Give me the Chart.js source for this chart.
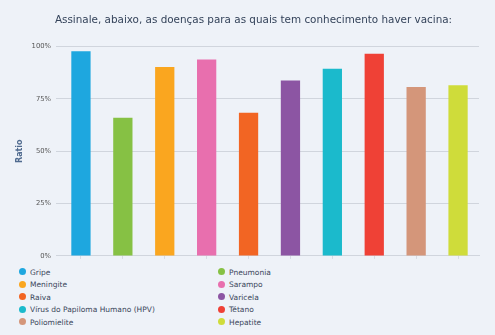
<!DOCTYPE html>
<html lang="pt">
<head>
  <meta charset="UTF-8">
  <title>Vacinas conhecidas</title>
  <style>
    html, body { margin: 0; padding: 0; background: #eef2f8; }
    body { width: 495px; height: 335px; overflow: hidden; font-family: "DejaVu Sans", sans-serif; }
    #wrap { position: relative; width: 495px; height: 265px; }
    #legend { display: grid; grid-template-columns: 199px 200px; padding-left: 19px; margin-top: 1.5px; }
    #legend div { height: 12.6px; line-height: 12.6px; font-size: 7.5px; color: #3a465a; white-space: nowrap; }
    #legend span { display: inline-block; width: 7px; height: 7px; border-radius: 50%; margin-right: 4px; vertical-align: -0.5px; }
  </style>
</head>
<body>
  <div id="wrap"><canvas id="chartCanvas"></canvas></div>
  <div id="legend"></div>

  <script src="https://cdn.jsdelivr.net/npm/chart.js"></script>
  <script>
    // dados
    const titulo = 'Assinale, abaixo, as doenças para as quais tem conhecimento haver vacina:';
    const doencas = ['Gripe', 'Pneumonia', 'Meningite', 'Sarampo', 'Raiva', 'Varicela',
      'Vírus do Papiloma Humano (HPV)', 'Tétano', 'Poliomielite', 'Hepatite'];
    const ratio = [97.7, 66.0, 90.2, 93.8, 68.4, 83.7, 89.4, 96.5, 80.7, 81.5];
    const cores = ['#1ea7df', '#86c144', '#faa61f', '#e86fae', '#f26523', '#8c55a3',
      '#1bbacc', '#ef4136', '#d4967a', '#cfdc3a'];
    const yTicks = ['0%', '25%', '50%', '75%', '100%'];

    const ctx = document.getElementById('chartCanvas').getContext('2d');
    const chart = new Chart(ctx, {
      type: 'bar',
      data: {
        labels: doencas,
        datasets: [{
          label: 'Ratio',
          data: ratio,
          backgroundColor: cores,
          borderWidth: 0,
          barPercentage: 0.46,
          categoryPercentage: 1
        }]
      },
      options: {
        responsive: true,
        maintainAspectRatio: false,
        animation: false,
        // left padding only shifts the centred title; the y axis width is fixed below
        layout: { padding: { left: 28, right: 16, top: 0, bottom: 0 } },
        plugins: {
          legend: { display: false },
          tooltip: { enabled: false },
          title: {
            display: true,
            text: titulo,
            color: '#34435a',
            font: { family: 'DejaVu Sans', size: 10.4, weight: 'normal' },
            padding: { top: 14, bottom: 20 }
          }
        },
        scales: {
          x: {
            grid: { drawOnChartArea: false, offset: false, drawTicks: true, tickLength: 3, color: '#d6dbe3' },
            border: { display: true, color: '#d0d5dd' },
            ticks: { display: false },
            afterFit: s => { s.height = 3; }
          },
          y: {
            min: 0,
            max: 100,
            grid: { color: '#d0d5dd', tickLength: 4 },
            border: { display: false },
            ticks: {
              stepSize: 25,
              padding: 5,
              color: '#555',
              font: { family: 'DejaVu Sans', size: 6.8 },
              callback: (v) => yTicks[v / 25]
            },
            title: {
              display: true,
              text: 'Ratio',
              color: '#506b8f',
              font: { family: 'DejaVu Sans', size: 8, weight: 'bold' },
              padding: { top: -12.5 }
            },
            afterFit: s => { s.width = 32; }
          }
        }
      }
    });

    // legenda em duas colunas
    const legend = document.getElementById('legend');
    doencas.forEach((d, i) => {
      const item = document.createElement('div');
      const dot = document.createElement('span');
      dot.style.background = cores[i];
      item.appendChild(dot);
      item.appendChild(document.createTextNode(d));
      legend.appendChild(item);
    });
  </script>
</body>
</html>
